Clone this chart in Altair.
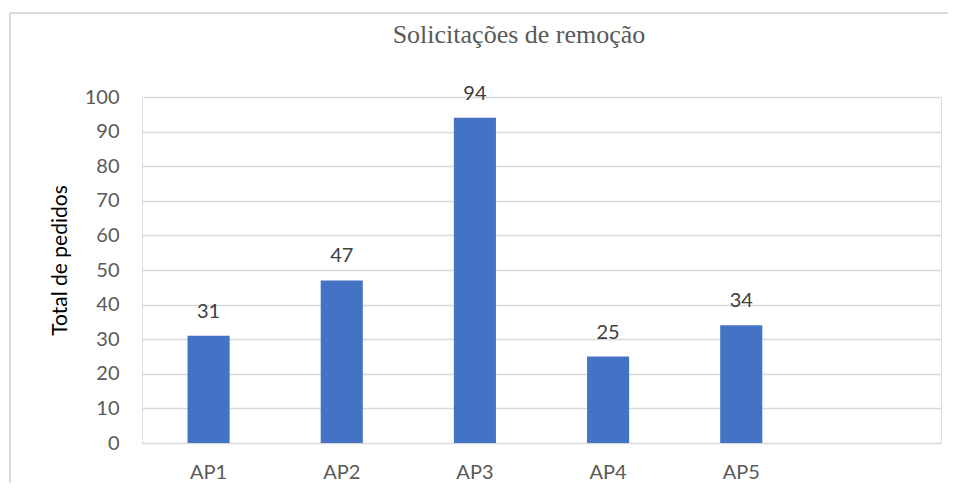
import altair as alt
import pandas as pd

title_text = "Solicitações de remoção"
categories = ["AP1", "AP2", "AP3", "AP4", "AP5"]
values = [31, 47, 94, 25, 34]
domain = categories + [" "]
y_ticks = list(range(0, 101, 10))

df = pd.DataFrame({"cat": categories, "val": values})

W, H = 799, 346
FONT = "Lato"

x = alt.X("cat:N", sort=domain,
          scale=alt.Scale(domain=domain, paddingInner=0.684, paddingOuter=0.342),
          axis=alt.Axis(title=None, labelAngle=0, labelFont=FONT, labelFontSize=20,
                        labelColor="#595959", labelPadding=19, ticks=False, domain=False,
                        grid=False))
y = alt.Y("val:Q", scale=alt.Scale(domain=[0, 100]),
          axis=alt.Axis(values=y_ticks, labelOverlap=False, title="Total de pedidos",
                        titleFont=FONT, titleFontSize=21, titleFontWeight="normal",
                        titleColor="#000000", titleAngle=-90, titleX=-76, titleY=163,
                        titleAlign="center", titleBaseline="alphabetic",
                        labelFont=FONT, labelFontSize=20, labelColor="#595959",
                        labelPadding=23, ticks=False, domain=False,
                        gridColor="#d9d9d9", gridWidth=1.3))

bars = alt.Chart(df).mark_bar(color="#4472C4").encode(x=x, y=y)
labels = alt.Chart(df).mark_text(font=FONT, fontSize=20, color="#404040",
                                 baseline="alphabetic", dy=-18).encode(
    x=x, y=y, text="val:Q")

frame = pd.DataFrame({"a": [0]})
border_top = alt.Chart(frame).mark_rule(color="#d9d9d9", strokeWidth=2).encode(
    x=alt.value(-132), x2=alt.value(W + 7), y=alt.value(-84))
border_left = alt.Chart(frame).mark_rule(color="#d9d9d9", strokeWidth=2).encode(
    x=alt.value(-132), y=alt.value(-84), y2=alt.value(H + 40))

title = alt.Chart(pd.DataFrame({"t": [title_text]})).mark_text(
    font="Liberation Serif", fontSize=26, color="#595959", align="center",
    baseline="alphabetic").encode(x=alt.value(377), y=alt.value(-54), text="t:N")

chart = alt.layer(border_top, border_left, bars, labels, title).properties(
    width=W, height=H,
    autosize=alt.AutoSizeParams(type="none"),
    padding={"left": 134, "top": 89, "right": 7, "bottom": 40},
).configure_view(strokeWidth=0, stroke="transparent").configure(background="white")

chart.save("out.html", embed_options={"renderer": "svg", "actions": False})
